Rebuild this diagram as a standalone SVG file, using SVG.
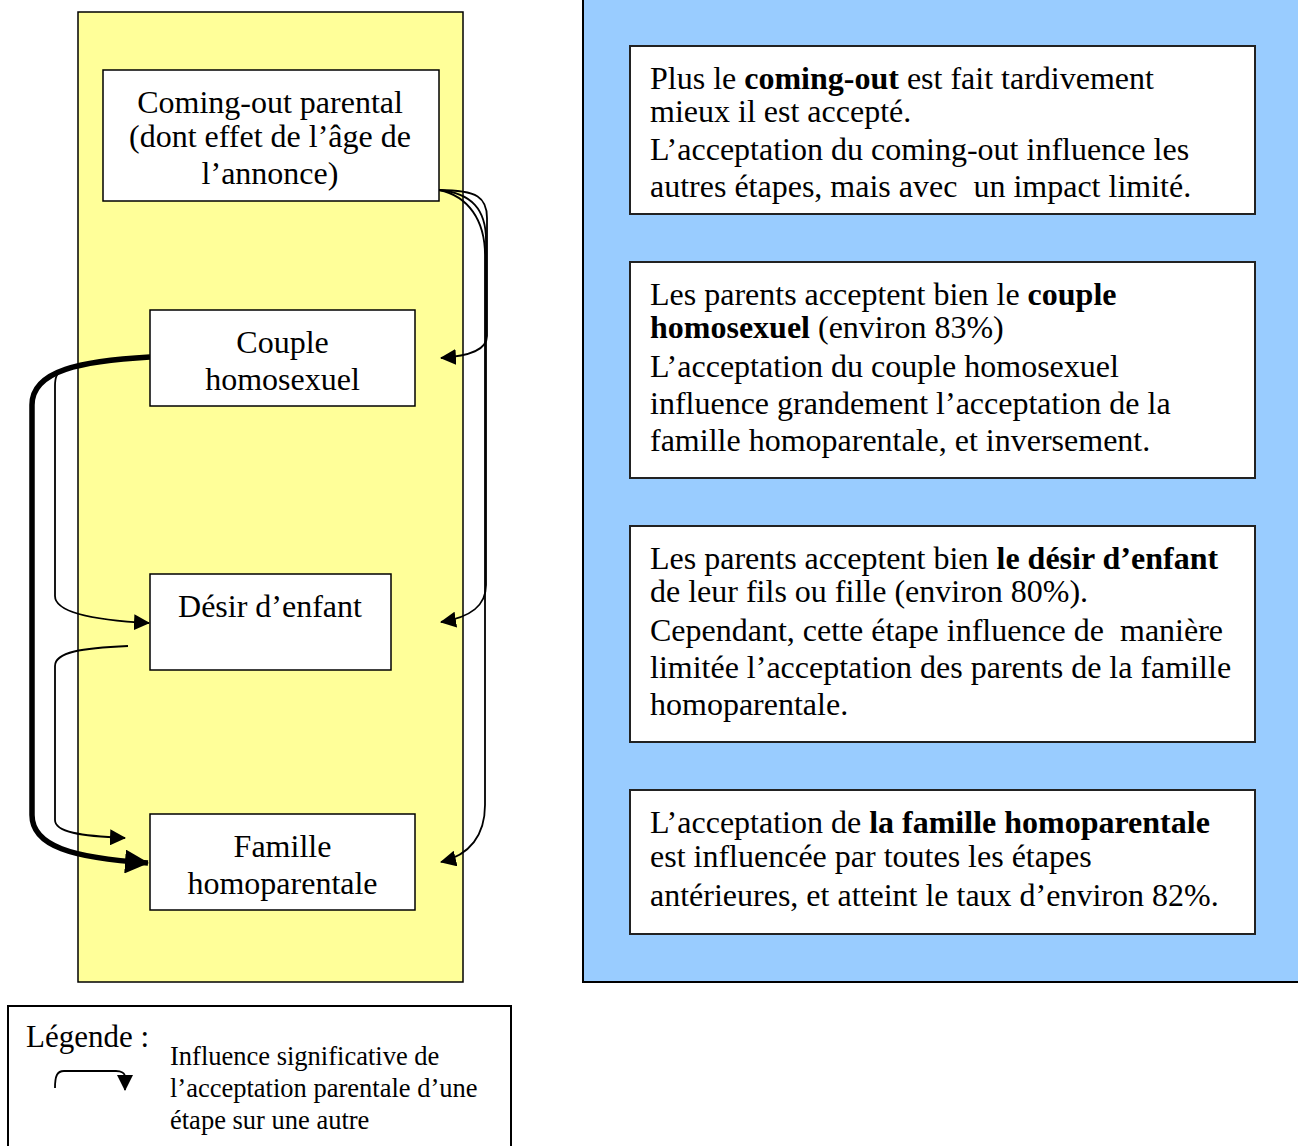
<svg xmlns="http://www.w3.org/2000/svg" width="1298" height="1146" viewBox="0 0 1298 1146">
<style>
text{font-family:"Liberation Serif","Times New Roman",serif;fill:#000;white-space:pre}
.t{font-size:32px}
.c{text-anchor:middle}
.b{font-weight:bold}
.leg{font-size:26.5px}
.box{fill:#fff;stroke:#000;stroke-width:1.5}
.rbox{fill:#fff;stroke:#222;stroke-width:2}
.thin{fill:none;stroke:#000;stroke-width:1.8}
.thick{fill:none;stroke:#000;stroke-width:5.5}
</style>
<defs>
<marker id="ah" markerUnits="userSpaceOnUse" viewBox="0 0 16 16" markerWidth="16" markerHeight="16" refX="15" refY="8" orient="auto"><path d="M0,0 L16,8 L0,16 z" fill="#000"/></marker>
<marker id="ahb" markerUnits="userSpaceOnUse" viewBox="0 0 24 24" markerWidth="24" markerHeight="24" refX="23" refY="12" orient="auto"><path d="M0,0 L24,12 L0,24 z" fill="#000"/></marker>
</defs>

<g id="panel-left">
<rect x="78" y="12" width="385" height="970" fill="#FFFF99" stroke="#000" stroke-width="1.5"/>
</g>
<g id="panel-right">
<rect x="583" y="-5" width="725" height="987" fill="#99CCFF" stroke="#000" stroke-width="2"/>
</g>

<g id="connectors">
<path class="thin" d="M439,190 C478,190 487,198 487,218 L487,336 C487,350 470,356 441,358" marker-end="url(#ah)"/>
<path class="thin" d="M439,190 C472,193 486,210 486,240 L486,585 C486,605 472,617 441,622" marker-end="url(#ah)"/>
<path class="thin" d="M439,190 C468,196 485,220 485,255 L485,805 C485,835 470,855 441,862" marker-end="url(#ah)"/>
<path class="thin" d="M150,357 C105,359 75,364 62,370 C57,373 55,377 55,386 L55,596 C55,612 90,620 149,623" marker-end="url(#ah)"/>
<path class="thin" d="M128,646 C82,648 55,652 55,666 L55,820 C55,832 80,836 125,838" marker-end="url(#ah)"/>
<path class="thick" d="M150,357 C82,361 32,370 32,405 L32,815 C32,846 72,858 148,863" marker-end="url(#ahb)"/>
</g>

<g id="node-comingout">
<rect class="box" x="103" y="70" width="336" height="131"/>
<text class="t c" x="270" y="113">Coming-out parental</text>
<text class="t c" x="270" y="147">(dont effet de l’âge de</text>
<text class="t c" x="270" y="184">l’annonce)</text>
</g>
<g id="node-couple">
<rect class="box" x="150" y="310" width="265" height="96"/>
<text class="t c" x="282.5" y="353">Couple</text>
<text class="t c" x="282.5" y="390">homosexuel</text>
</g>
<g id="node-desir">
<rect class="box" x="150" y="574" width="241" height="96"/>
<text class="t c" x="270" y="617">Désir d’enfant</text>
</g>
<g id="node-famille">
<rect class="box" x="150" y="814" width="265" height="96"/>
<text class="t c" x="282.5" y="857">Famille</text>
<text class="t c" x="282.5" y="894">homoparentale</text>
</g>

<g id="info-comingout">
<rect class="rbox" x="630" y="46" width="625" height="168"/>
<text class="t" x="650" y="89">Plus le <tspan class="b">coming-out</tspan> est fait tardivement</text>
<text class="t" x="650" y="122">mieux il est accepté.</text>
<text class="t" x="650" y="160">L’acceptation du coming-out influence les</text>
<text class="t" x="650" y="197">autres étapes, mais avec  un impact limité.</text>
</g>
<g id="info-couple">
<rect class="rbox" x="630" y="262" width="625" height="216"/>
<text class="t" x="650" y="305">Les parents acceptent bien le <tspan class="b">couple</tspan></text>
<text class="t" x="650" y="338"><tspan class="b">homosexuel</tspan> (environ 83%)</text>
<text class="t" x="650" y="377">L’acceptation du couple homosexuel</text>
<text class="t" x="650" y="414">influence grandement l’acceptation de la</text>
<text class="t" x="650" y="451">famille homoparentale, et inversement.</text>
</g>
<g id="info-desir">
<rect class="rbox" x="630" y="526" width="625" height="216"/>
<text class="t" x="650" y="569">Les parents acceptent bien <tspan class="b">le désir d’enfant</tspan></text>
<text class="t" x="650" y="602">de leur fils ou fille (environ 80%).</text>
<text class="t" x="650" y="641">Cependant, cette étape influence de  manière</text>
<text class="t" x="650" y="678">limitée l’acceptation des parents de la famille</text>
<text class="t" x="650" y="715">homoparentale.</text>
</g>
<g id="info-famille">
<rect class="rbox" x="630" y="790" width="625" height="144"/>
<text class="t" x="650" y="833">L’acceptation de <tspan class="b">la famille homoparentale</tspan></text>
<text class="t" x="650" y="867">est influencée par toutes les étapes</text>
<text class="t" x="650" y="906">antérieures, et atteint le taux d’environ 82%.</text>
</g>

<g id="legend">
<rect x="8" y="1006" width="503" height="150" fill="#fff" stroke="#000" stroke-width="2"/>
<text x="26" y="1047" style="font-size:31px">Légende :</text>
<path class="thin" d="M55,1088 C55,1076 57,1071 64,1071 L116,1071 C121,1071 125,1073 125,1077 L125,1090" marker-end="url(#ah)"/>
<text class="leg" x="170" y="1065">Influence significative de</text>
<text class="leg" x="170" y="1097">l’acceptation parentale d’une</text>
<text class="leg" x="170" y="1129">étape sur une autre</text>
</g>
</svg>
